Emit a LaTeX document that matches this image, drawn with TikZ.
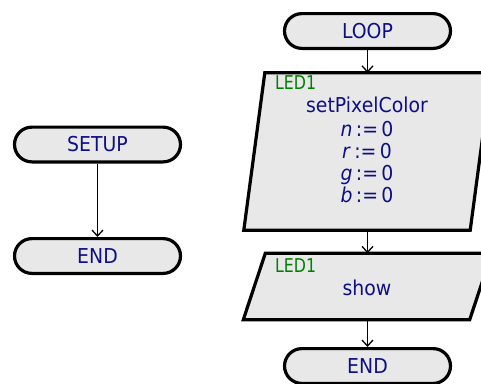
\documentclass[tikz,border=0pt]{standalone}
\usepackage{fontspec}
\setmainfont{DejaVu Sans}[FakeStretch=0.92]
\newfontfamily\ledfont{DejaVu Sans}[FakeStretch=0.83]
\usetikzlibrary{arrows.meta,backgrounds}
\definecolor{boxfill}{HTML}{E8E8E8}
\definecolor{navytext}{HTML}{0F0F85}
\definecolor{ledgreen}{HTML}{008000}
\tikzset{
  term/.style={draw=black, fill=boxfill, line width=3.2pt, rounded corners=17.4pt,
    minimum width=166pt, minimum height=34.8pt, inner sep=0pt,
    text=navytext, font=\fontsize{20.5}{22}\selectfont},
  iobox/.style={inner sep=0pt, draw=none},
  para/.style={draw=black, fill=boxfill, line width=3.2pt, line join=miter},
  lbl/.style={text=ledgreen, font=\ledfont\fontsize{19}{20}\selectfont, anchor=base west, inner sep=0pt},
  txt/.style={text=navytext, font=\fontsize{20.5}{22}\selectfont, anchor=base, inner sep=0pt},
  arr/.style={line width=1.3pt, -{Straight Barb[length=6pt,width=11pt,line width=1.3pt]}}
}
\begin{document}
\begin{tikzpicture}[x=1pt,y=-1pt]
\clip (0,0) rectangle (481,383);
% left chart
\node[term] (setup) at (97.5,144.5) {SETUP};
\node[term] (endl) at (97.5,256) {END};
\draw[arr] (setup) -- (endl);
% right chart
\node[term] (loop) at (367.5,31) {LOOP};
\node[iobox, minimum width=226pt, minimum height=157pt] (p1) at (367.5,151.5) {};
\node[iobox, minimum width=226pt, minimum height=66pt] (p2) at (367.5,286.5) {};
\node[term] (endr) at (367.5,366) {END};
\begin{scope}[on background layer]
\fill[white] (0,0) rectangle (481,383);
\path[para] ([xshift=10.5pt]p1.north west) -- ([xshift=10.5pt]p1.north east)
  -- ([xshift=-10.5pt]p1.south east) -- ([xshift=-10.5pt]p1.south west) -- cycle;
\path[para] ([xshift=11pt]p2.north west) -- ([xshift=11pt]p2.north east)
  -- ([xshift=-11pt]p2.south east) -- ([xshift=-11pt]p2.south west) -- cycle;
\end{scope}
\node[lbl] (l1) at (275,89) {LED1};
\node[txt] (t1) at (367,112) {setPixelColor};
\node[txt] (t2) at (367,136) {\textit{n}\,:=\,0};
\node[txt] (t3) at (367,158) {\textit{r}\,:=\,0};
\node[txt] (t4) at (367,180) {\textit{g}\,:=\,0};
\node[txt] (t5) at (367,202) {\textit{b}\,:=\,0};
\node[lbl] (l2) at (275,272) {LED1};
\node[txt] (t6) at (367,295) {show};
\draw[arr] (loop) -- (p1);
\draw[arr] (p1) -- (p2);
\draw[arr] (p2) -- (endr);
\end{tikzpicture}
\end{document}
